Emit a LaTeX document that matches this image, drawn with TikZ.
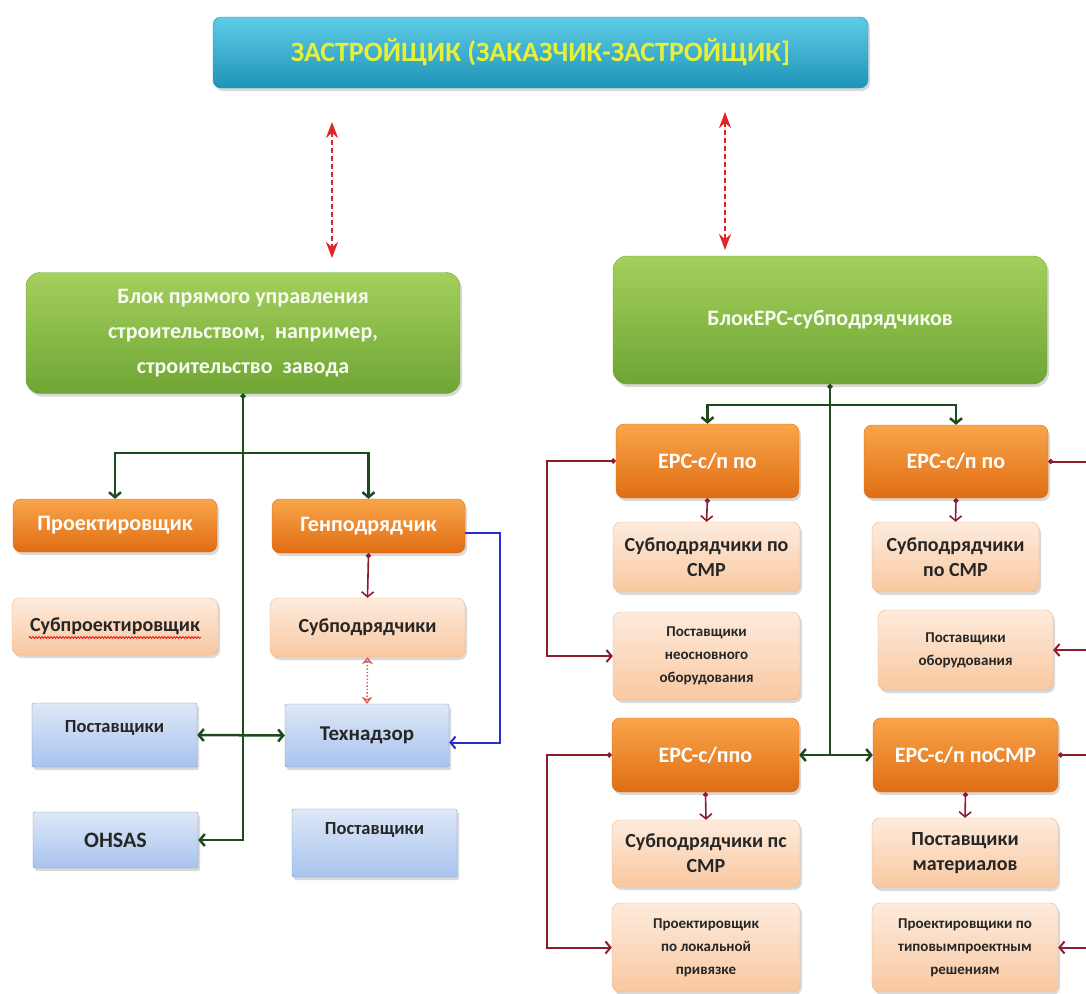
\documentclass[tikz,border=0pt]{standalone}
\usepackage{fontspec}
\setmainfont{Carlito}
\usetikzlibrary{arrows.meta,shadows,decorations.pathmorphing}
\definecolor{cyanTop}{HTML}{5FCBE6}
\definecolor{cyanBot}{HTML}{1E94B8}
\definecolor{titleYellow}{HTML}{E6F03A}
\definecolor{greenTop}{HTML}{A4D05C}
\definecolor{greenBot}{HTML}{6FA534}
\definecolor{orangeTop}{HTML}{F9A54A}
\definecolor{orangeBot}{HTML}{E06D14}
\definecolor{peachTop}{HTML}{FDEBDD}
\definecolor{peachBot}{HTML}{F9C8A0}
\definecolor{peachEdge}{HTML}{F0B487}
\definecolor{blueTop}{HTML}{DEE8F7}
\definecolor{blueBot}{HTML}{A8C3EE}
\definecolor{blueEdge}{HTML}{8696B8}
\definecolor{lineGreen}{HTML}{1E4A1E}
\definecolor{lineRed}{HTML}{8E1B2E}
\definecolor{lineBlue}{HTML}{2B2BD4}
\definecolor{dashRed}{HTML}{E32424}
\tikzset{
    barb/.tip = {Straight Barb[length=5pt, width=12pt]},
    dot/.tip = {Circle[length=5pt]},
    wh/.style 2 args = {minimum width=#1pt, minimum height=#2pt},
    fs/.style 2 args = {font=\bfseries\fontsize{#1}{#2}\selectfont},
    base-box/.style = {rectangle, align=center, inner sep=2pt, drop shadow={opacity=0.3, shadow xshift=2pt, shadow yshift=-3pt}},
    client-box/.style = {base-box, rounded corners=8pt, top color=cyanTop, bottom color=cyanBot, draw=cyanBot, text=titleYellow, fs={28}{34}},
    green-box/.style = {base-box, rounded corners=14pt, top color=greenTop, bottom color=greenBot, draw=greenBot, text=white!92!greenTop, fs={22}{35}},
    orange-box/.style = {base-box, rounded corners=8pt, top color=orangeTop, bottom color=orangeBot, draw=orangeBot, text=white, fs={22}{26}},
    peach-box/.style = {base-box, rounded corners=8pt, top color=peachTop, bottom color=peachBot, draw=peachEdge, text=black!85, fs={20}{25}},
    small-peach/.style = {peach-box, fs={15}{23}},
    blue-box/.style = {base-box, rounded corners=1.5pt, top color=blueTop, bottom color=blueBot, draw=blueEdge, text=black!85, fs={22}{25}},
    tree-line/.style = {draw=lineGreen, line width=2.5pt, -barb},
    sub-line/.style = {draw=lineRed, line width=1.6pt, dot-barb},
    loop-line/.style = {draw=lineRed, line width=2pt, dot-barb},
    blue-line/.style = {draw=lineBlue, line width=2pt, -barb},
    link-arrow/.style = {draw=dashRed, line width=2pt, dash pattern=on 5pt off 3pt, {Stealth[length=16pt, width=12pt]}-{Stealth[length=16pt, width=12pt]}},
    dot-link/.style = {draw=dashRed!80, line width=1.4pt, dotted, {Stealth[open, length=7pt, width=11pt]}-{Stealth[open, length=7pt, width=11pt]}},
}
\begin{document}
\begin{tikzpicture}[x=1pt, y=-1pt]
\useasboundingbox (0,0) rectangle (1086,993);

% customer on top
\node[client-box, wh={655}{71}] (client) at (540.5,52.5) {ЗАСТРОЙЩИК (ЗАКАЗЧИК-ЗАСТРОЙЩИК]};
\coordinate (link-l-top) at (332,122);
\coordinate (link-l-bot) at (332,258);
\coordinate (link-r-top) at (725,112);
\coordinate (link-r-bot) at (725,250);
\draw[link-arrow] (link-l-top) -- (link-l-bot);
\draw[link-arrow] (link-r-top) -- (link-r-bot);

% direct management block
\node[green-box, wh={434}{121}] (direct) at (243,333) {Блок прямого управления\\строительством,~~например,\\строительство~~завода};
\node[orange-box, wh={204}{53}] (designer) at (115,525.5) {Проектировщик};
\node[orange-box, wh={193}{54}] (genpodr) at (368.5,526) {Генподрядчик};
\node[peach-box, wh={206}{57}] (subdesign) at (115,626.5) {Субпроектировщик};
\draw[red, line width=0.8pt, decorate, decoration={snake, amplitude=0.9pt, segment length=3pt}]
    ([xshift=-86pt, yshift=-11pt]subdesign.center) -- ++(172,0);
\node[peach-box, wh={195}{59}] (subcontr) at (367.5,627.5) {Субподрядчики};
\node[blue-box, wh={165}{64}, fs={18.5}{20}, text depth=18pt] (suppl-a) at (114.5,735) {Поставщики};
\node[blue-box, wh={164}{63}, fs={21}{25}] (supervision) at (367,735.5) {Технадзор};
\node[blue-box, wh={165}{56}] (ohsas) at (115.5,840) {OHSAS};
\node[blue-box, wh={165}{68}, fs={18.5}{20}, text depth=30pt] (suppl-b) at (374.5,843) {Поставщики};

\coordinate (direct-fork) at (243,453);
\draw[tree-line, dot-barb] (direct.south) -- (direct.south |- ohsas.east) -- (ohsas.east);
\draw[tree-line] (direct-fork) -| (designer.north);
\draw[tree-line] (direct-fork) -| (genpodr.north);
\draw[tree-line, barb-barb] (suppl-a.east) -- (supervision.west);
\draw[sub-line] (genpodr.south) -- (subcontr.north);
\draw[dot-link] (subcontr.south) -- (supervision.north);
\draw[blue-line] ([yshift=-7pt]genpodr.east) -- ++(35,0) |- ([yshift=-7pt]supervision.east);

% EPC block
\node[green-box, wh={434}{128}] (epc-block) at (830,320) {БлокEPC-субподрядчиков};
\node[orange-box, wh={183}{74}] (epc-a) at (707.5,461) {EPC-c/п по};
\node[orange-box, wh={184}{73}] (epc-b) at (956,461.5) {EPC-c/п по};
\node[peach-box, wh={187}{70}] (sub-a) at (706.5,557) {Субподрядчики по\\СМР};
\node[peach-box, wh={167}{70}] (sub-b) at (955.5,557) {Субподрядчики\\по СМР};
\node[small-peach, wh={187}{88}] (supply-a) at (706.5,656) {Поставщики\\неосновного\\оборудования};
\node[small-peach, wh={175}{80}] (supply-b) at (965.5,650) {Поставщики\\оборудования};
\node[orange-box, wh={187}{74}] (epc-c) at (705.5,755) {EPC-c/ппо};
\node[orange-box, wh={185}{74}] (epc-d) at (965.5,755) {EPC-c/п поСМР};
\node[peach-box, wh={188}{67}] (sub-c) at (706,853.5) {Субподрядчики пс\\СМР};
\node[peach-box, wh={186}{70}] (sub-d) at (965,853) {Поставщики\\материалов};
\node[small-peach, wh={188}{89}] (design-c) at (706,947.5) {Проектировщик\\по локальной\\привязке};
\node[small-peach, wh={186}{89}] (design-d) at (965,947.5) {Проектировщики по\\типовымпроектным\\решениям};

\coordinate (epc-fork) at (830,405);
\draw[tree-line, dot-] (epc-block.south) -- (epc-block.south |- epc-c.east);
\draw[tree-line] (epc-fork) -| (epc-a.north);
\draw[tree-line] (epc-fork) -| (epc-b.north);
\draw[tree-line, barb-barb] (epc-c.east) -- (epc-d.west);
\foreach \top/\low in {epc-a/sub-a, epc-b/sub-b, epc-c/sub-c, epc-d/sub-d}
    \draw[sub-line] (\top.south) -- (\low.north);
\draw[loop-line] (epc-a.west) -- ++(-69,0) |- (supply-a.west);
\draw[loop-line] (epc-c.west) -- ++(-65,0) |- (design-c.west);
\draw[loop-line] (epc-b.east) -- ++(60,0) |- (supply-b.east);
\draw[loop-line] (epc-d.east) -- ++(60,0) |- (design-d.east);
\end{tikzpicture}
\end{document}
